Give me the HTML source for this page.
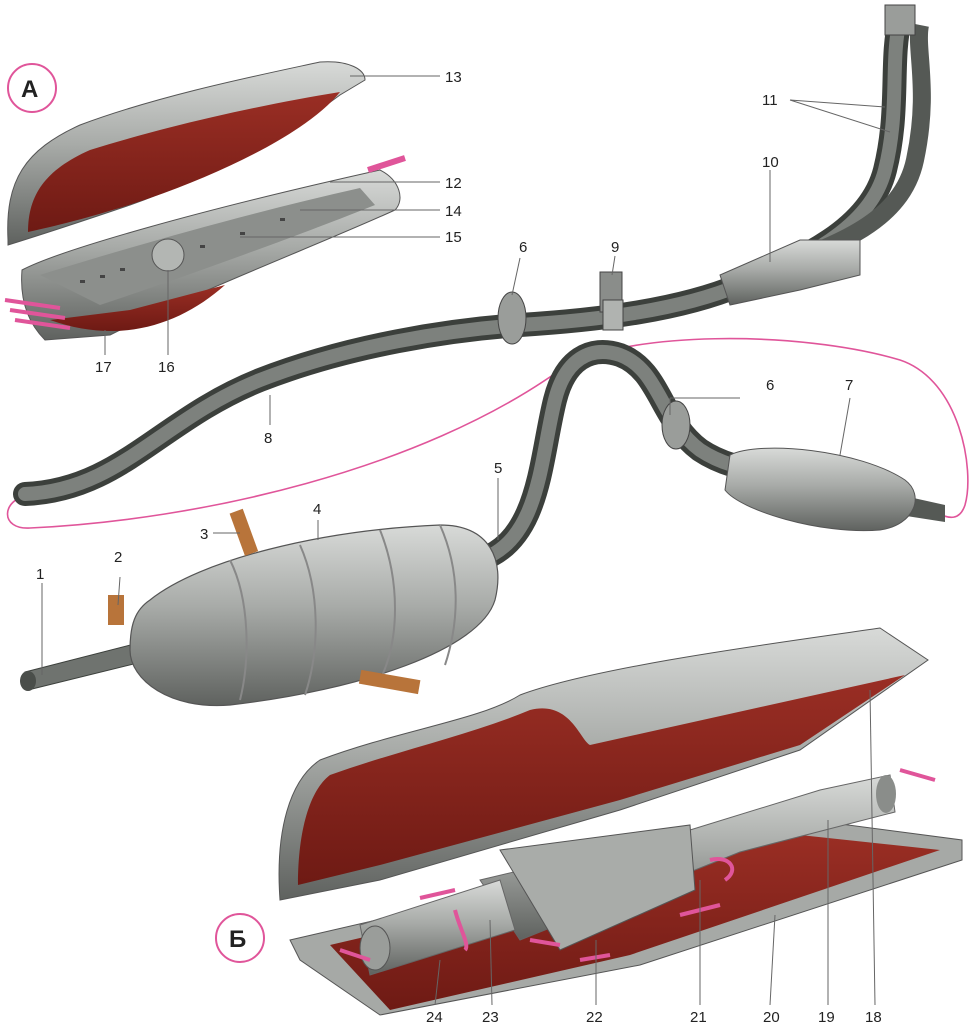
<!DOCTYPE html>
<html><head><meta charset="utf-8"><style>
html,body{margin:0;padding:0;background:#fff;}
svg{display:block}
text{font-family:"Liberation Sans",sans-serif;font-size:15px;fill:#222}
</style></head><body>
<svg width="980" height="1024" viewBox="0 0 980 1024" xmlns="http://www.w3.org/2000/svg">
<defs>
<linearGradient id="metal" x1="0" y1="0" x2="0" y2="1"><stop offset="0" stop-color="#d8dad8"/><stop offset=".45" stop-color="#a8aba8"/><stop offset="1" stop-color="#5f625f"/></linearGradient>
<linearGradient id="red" x1="0" y1="0" x2="0" y2="1"><stop offset="0" stop-color="#9a2e24"/><stop offset="1" stop-color="#6e1a14"/></linearGradient>
</defs>
<rect width="980" height="1024" fill="#fff"/>

<path d="M30,494 C0,500 0,530 30,528 C200,520 420,470 560,370 C620,330 800,330 900,360 C960,380 975,470 965,505 C960,520 950,520 935,512" fill="none" stroke="#e0559a" stroke-width="1.6"/>

<path d="M25,494 C120,490 160,420 260,380 C350,345 450,330 520,325 C600,320 680,310 740,285 C800,260 870,230 885,170 C900,110 890,60 900,20" fill="none" stroke="#3c403c" stroke-width="24" stroke-linecap="round"/>
<path d="M25,494 C120,490 160,420 260,380 C350,345 450,330 520,325 C600,320 680,310 740,285 C800,260 870,230 885,170 C900,110 890,60 900,20" fill="none" stroke="#7d817d" stroke-width="14" stroke-linecap="round"/>
<path d="M740,280 C820,250 900,230 915,160 C930,90 915,50 920,25" fill="none" stroke="#555955" stroke-width="18"/>
<path d="M720,275 L800,240 L860,240 L860,275 L800,290 L730,305 Z" fill="url(#metal)" stroke="#555" stroke-width="1"/>
<ellipse cx="512" cy="318" rx="14" ry="26" fill="#9a9d9a" stroke="#444"/>
<rect x="600" y="272" width="22" height="40" fill="#8a8d8a" stroke="#444"/>
<rect x="603" y="300" width="20" height="30" fill="#b0b3b0" stroke="#444"/>
<rect x="885" y="5" width="30" height="30" fill="#9a9d9a" stroke="#444"/>

<path d="M480,560 C540,540 540,460 555,400 C565,360 590,345 620,355 C660,370 660,420 700,450 C730,470 760,470 800,480" fill="none" stroke="#3c403c" stroke-width="24" stroke-linecap="round"/>
<path d="M480,560 C540,540 540,460 555,400 C565,360 590,345 620,355 C660,370 660,420 700,450 C730,470 760,470 800,480" fill="none" stroke="#7d817d" stroke-width="14"/>
<ellipse cx="676" cy="425" rx="14" ry="24" fill="#9a9d9a" stroke="#444"/>
<path d="M900,495 L945,505 L945,522 L900,515 Z" fill="#555955"/>
<path d="M730,455 C760,440 860,450 905,480 C925,495 915,525 880,530 C820,535 740,510 725,490 Z" fill="url(#metal)" stroke="#555"/>

<path d="M25,672 L150,640 L150,660 L28,690 Z" fill="#6f736f" stroke="#3c403c"/>
<ellipse cx="28" cy="681" rx="8" ry="10" fill="#4a4e4a"/>
<path d="M150,600 C200,560 320,530 440,525 C490,525 505,560 495,600 C480,650 360,690 230,705 C170,710 130,680 130,650 C130,625 135,610 150,600 Z" fill="url(#metal)" stroke="#555" stroke-width="1.2"/>
<path d="M230,560 C250,600 250,660 240,700 M300,545 C320,590 320,650 305,695 M380,530 C400,580 400,640 380,680 M440,525 C460,570 460,620 445,665" fill="none" stroke="#888" stroke-width="2"/>
<rect x="236" y="510" width="14" height="45" fill="#b8743a" transform="rotate(-20 243 530)"/>
<rect x="108" y="595" width="16" height="30" fill="#b8743a"/>
<rect x="360" y="675" width="60" height="14" fill="#b8743a" transform="rotate(10 390 680)"/>

<!-- A top half shell -->
<path d="M8,240 C5,180 25,150 80,125 C160,95 260,75 320,62 C350,60 365,70 365,80 L340,95 C280,140 200,180 130,205 C80,222 40,235 8,245 Z" fill="url(#metal)" stroke="#555"/>
<path d="M28,232 C28,195 45,170 90,150 C170,125 260,105 340,92 C310,130 230,170 150,198 C100,215 60,225 28,232 Z" fill="url(#red)"/>
<!-- A bottom -->
<path d="M22,270 C60,250 200,210 380,170 C400,180 405,200 395,210 C330,240 200,290 110,335 L45,340 C25,320 20,295 22,270 Z" fill="url(#metal)" stroke="#555"/>
<path d="M40,275 C120,250 240,215 360,188 L375,205 C300,235 190,275 100,305 Z" fill="#8c8f8c"/>
<path d="M50,320 C120,345 180,325 225,285 L130,310 Z" fill="url(#red)"/>
<circle cx="168" cy="255" r="16" fill="#b3b6b3" stroke="#555"/>
<g fill="#444"><rect x="80" y="280" width="5" height="3"/><rect x="100" y="275" width="5" height="3"/><rect x="120" y="268" width="5" height="3"/><rect x="200" y="245" width="5" height="3"/><rect x="240" y="232" width="5" height="3"/><rect x="280" y="218" width="5" height="3"/></g>
<path d="M5,300 L60,308 M10,310 L65,318 M15,320 L70,328" stroke="#e0559a" stroke-width="4"/>
<path d="M368,170 L405,158" stroke="#e0559a" stroke-width="6"/>

<!-- Б top shell -->
<path d="M280,900 C275,830 290,780 320,760 C400,730 480,720 520,695 C600,665 800,640 880,628 L928,660 L800,750 L620,810 L380,880 Z" fill="url(#metal)" stroke="#555"/>
<path d="M298,885 C298,830 310,790 330,775 C400,750 470,735 530,710 C570,700 580,740 590,745 L905,675 L800,745 L620,800 L380,865 Z" fill="url(#red)"/>
<!-- Б bottom tray -->
<path d="M290,940 L810,820 L962,840 L962,860 L640,965 L380,1015 L300,960 Z" fill="#a6a9a6" stroke="#555"/>
<path d="M330,945 L800,835 L940,850 L630,955 L390,1010 Z" fill="url(#red)"/>
<path d="M480,880 L690,830 L820,790 L890,775 L895,812 L740,852 L520,940 Z" fill="url(#metal)" stroke="#666"/>
<ellipse cx="886" cy="794" rx="10" ry="19" fill="#8a8d8a"/>
<path d="M360,925 L500,880 L515,930 L370,975 Z" fill="url(#metal)" stroke="#666"/>
<ellipse cx="375" cy="948" rx="15" ry="22" fill="#9a9d9a" stroke="#555"/>
<path d="M500,850 L690,825 L695,890 L560,950 Z" fill="#a9aca9" stroke="#555"/>
<g stroke="#e0559a" stroke-width="4" fill="none"><path d="M710,860 C730,855 740,870 725,880"/><path d="M680,915 L720,905"/><path d="M420,898 L455,890"/><path d="M455,910 C460,930 470,945 465,950"/><path d="M530,940 L560,945"/><path d="M580,960 L610,955"/><path d="M900,770 L935,780"/><path d="M340,950 L370,960"/></g>

<circle cx="32" cy="88" r="24" fill="none" stroke="#e0559a" stroke-width="2"/>
<text x="21" y="97" style="font-size:24px;font-weight:bold">А</text>
<circle cx="240" cy="938" r="24" fill="none" stroke="#e0559a" stroke-width="2"/>
<text x="229" y="947" style="font-size:24px;font-weight:bold">Б</text>

<g stroke="#666" stroke-width="1" fill="none">
<path d="M350,76 L440,76"/><path d="M330,182 L440,182"/><path d="M300,210 L440,210"/><path d="M240,237 L440,237"/>
<path d="M105,330 L105,355"/><path d="M168,270 L168,355"/>
<path d="M790,100 L885,107 M790,100 L890,132"/><path d="M770,170 L770,262"/>
<path d="M520,258 L512,295"/><path d="M615,256 L612,275"/>
<path d="M270,395 L270,425"/><path d="M670,398 L740,398 M670,398 L670,415"/><path d="M850,398 L840,455"/>
<path d="M498,478 L498,540"/><path d="M318,520 L318,540"/><path d="M213,533 L240,533"/>
<path d="M120,577 L118,605"/><path d="M42,583 L42,675"/>
<path d="M435,1005 L440,960"/><path d="M492,1005 L490,920"/><path d="M596,1005 L596,940"/><path d="M700,1005 L700,880"/><path d="M770,1005 L775,915"/><path d="M828,1005 L828,820"/><path d="M875,1005 L870,690"/>
</g>
<g>
<text x="445" y="82">13</text><text x="445" y="188">12</text><text x="445" y="216">14</text><text x="445" y="242">15</text>
<text x="95" y="372">17</text><text x="158" y="372">16</text>
<text x="762" y="105">11</text><text x="762" y="167">10</text>
<text x="519" y="252">6</text><text x="611" y="252">9</text>
<text x="264" y="443">8</text><text x="766" y="390">6</text><text x="845" y="390">7</text>
<text x="494" y="473">5</text><text x="313" y="514">4</text><text x="200" y="539">3</text>
<text x="114" y="562">2</text><text x="36" y="579">1</text>
<text x="426" y="1022">24</text><text x="482" y="1022">23</text><text x="586" y="1022">22</text><text x="690" y="1022">21</text><text x="763" y="1022">20</text><text x="818" y="1022">19</text><text x="865" y="1022">18</text>
</g>
</svg>
</body></html>
